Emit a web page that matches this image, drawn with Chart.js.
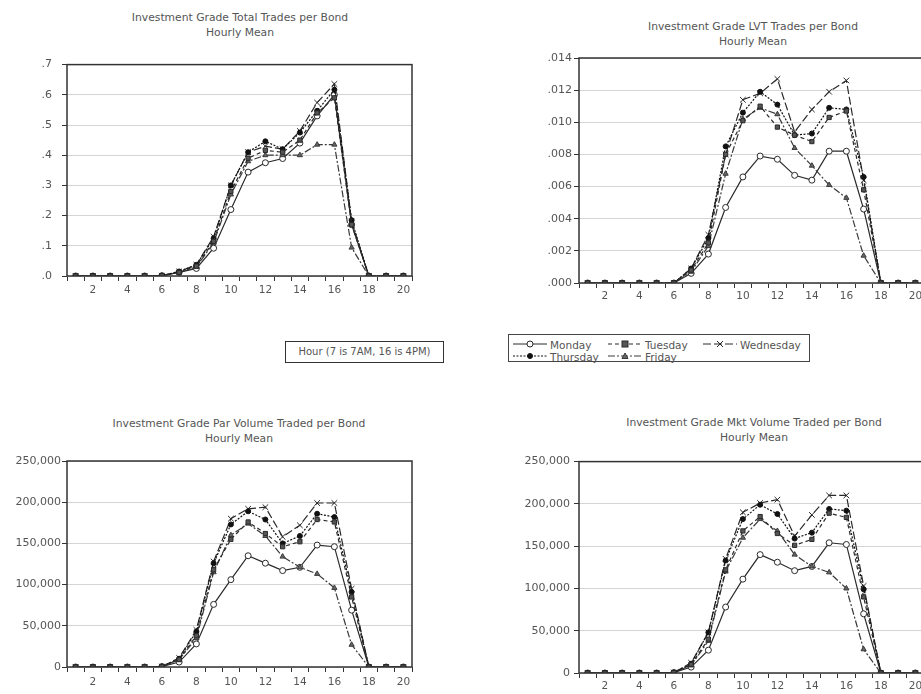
<!DOCTYPE html>
<html>
<head>
<meta charset="utf-8">
<script src="https://cdn.jsdelivr.net/npm/chart.js@4.4.1/dist/chart.umd.min.js"></script>
<style>
    html, body { margin: 0; padding: 0; width: 921px; height: 694px; overflow: hidden; background: #fff; }
    body { position: relative; font-family: "DejaVu Sans", sans-serif; color: #555; }
    canvas { position: absolute; }
    .title { position: absolute; transform: translateX(-50%); white-space: nowrap; font-size: 10.75px; line-height: 15px; text-align: center; }
    .hourbox { position: absolute; left: 285px; top: 341px; width: 159px; height: 22px; box-sizing: border-box;
               border: 1px solid #333; font-size: 10px; line-height: 20px; text-align: center; }
    .legend { position: absolute; left: 508px; top: 334px; width: 302px; height: 28px; box-sizing: border-box; border: 1px solid #444; }
    .legend .item { position: absolute; height: 12px; line-height: 12px; font-size: 10.5px; white-space: nowrap; }
    .legend svg { vertical-align: top; margin-right: 3px; }
</style>
</head>
<body>
<div class="title" style="left:240px; top:10px;">Investment Grade Total Trades per Bond<br>Hourly Mean</div>
<div class="title" style="left:753px; top:19px;">Investment Grade LVT Trades per Bond<br>Hourly Mean</div>
<div class="title" style="left:239px; top:416px;">Investment Grade Par Volume Traded per Bond<br>Hourly Mean</div>
<div class="title" style="left:754px; top:415px;">Investment Grade Mkt Volume Traded per Bond<br>Hourly Mean</div>

<canvas id="totalChart" width="430" height="262" style="left:0px; top:48px;"></canvas>
<canvas id="lvtChart" width="440" height="262" style="left:500px; top:48px;"></canvas>
<canvas id="parChart" width="430" height="243" style="left:0px; top:451px;"></canvas>
<canvas id="mktChart" width="440" height="243" style="left:500px; top:451px;"></canvas>

<div class="hourbox">Hour (7 is 7AM, 16 is 4PM)</div>
<div class="legend" id="legend"></div>

<script>
// Hours on the x axis
const hours = [1, 2, 3, 4, 5, 6, 7, 8, 9, 10, 11, 12, 13, 14, 15, 16, 17, 18, 19, 20];
const dayNames = ['Monday', 'Tuesday', 'Wednesday', 'Thursday', 'Friday'];

// Total trades per bond
const totalMon = [0, 0, 0, 0, 0, 0.001, 0.012, 0.025, 0.092, 0.22, 0.344, 0.375, 0.389, 0.44, 0.53, 0.60, 0.17, 0, 0, 0];
const totalTue = [0, 0, 0, 0, 0, 0.001, 0.012, 0.033, 0.115, 0.28, 0.39, 0.416, 0.41, 0.45, 0.54, 0.59, 0.17, 0, 0, 0];
const totalWed = [0, 0, 0, 0, 0, 0.001, 0.015, 0.037, 0.13, 0.30, 0.41, 0.43, 0.42, 0.48, 0.574, 0.636, 0.18, 0, 0, 0];
const totalThu = [0, 0, 0, 0, 0, 0.001, 0.015, 0.037, 0.125, 0.30, 0.41, 0.446, 0.42, 0.475, 0.547, 0.617, 0.185, 0, 0, 0];
const totalFri = [0, 0, 0, 0, 0, 0.001, 0.012, 0.03, 0.11, 0.27, 0.38, 0.40, 0.40, 0.40, 0.435, 0.435, 0.094, 0, 0, 0];

// LVT trades per bond
const lvtMon = [0, 0, 0, 0, 0, 0, 0.0006, 0.0018, 0.0047, 0.0066, 0.0079, 0.0077, 0.0067, 0.0064, 0.0082, 0.0082, 0.0046, 0, 0, 0];
const lvtTue = [0, 0, 0, 0, 0, 0, 0.0008, 0.0025, 0.0080, 0.0101, 0.0110, 0.0097, 0.0092, 0.0088, 0.0103, 0.0107, 0.0058, 0, 0, 0];
const lvtWed = [0, 0, 0, 0, 0, 0, 0.0009, 0.0030, 0.0080, 0.0114, 0.0118, 0.0127, 0.0094, 0.0108, 0.0119, 0.0126, 0.0064, 0, 0, 0];
const lvtThu = [0, 0, 0, 0, 0, 0, 0.0009, 0.0028, 0.0085, 0.0106, 0.0119, 0.0111, 0.0092, 0.0093, 0.0109, 0.0108, 0.0066, 0, 0, 0];
const lvtFri = [0, 0, 0, 0, 0, 0, 0.0007, 0.0023, 0.0068, 0.0102, 0.0109, 0.0105, 0.0084, 0.0073, 0.0061, 0.0053, 0.0017, 0, 0, 0];

// Par volume traded per bond
const parMon = [0, 0, 0, 0, 0, 500, 6000, 28000, 76000, 106000, 135000, 126000, 117000, 121000, 148000, 146000, 69000, 0, 0, 0];
const parTue = [0, 0, 0, 0, 0, 500, 9000, 38000, 118000, 155000, 176000, 162000, 146000, 152000, 179000, 176000, 85000, 0, 0, 0];
const parWed = [0, 0, 0, 0, 0, 500, 11000, 45000, 128000, 180000, 192000, 194000, 158000, 172000, 199000, 199000, 95000, 0, 0, 0];
const parThu = [0, 0, 0, 0, 0, 500, 10000, 43000, 126000, 173000, 189000, 179000, 150000, 159000, 186000, 182000, 91000, 0, 0, 0];
const parFri = [0, 0, 0, 0, 0, 500, 9000, 35000, 115000, 160000, 174000, 159000, 134000, 121000, 113000, 96000, 27000, 0, 0, 0];

// Market volume traded per bond
const mktMon = [0, 0, 0, 0, 0, 500, 7000, 27000, 78000, 111000, 140000, 131000, 121000, 126000, 154000, 152000, 70000, 0, 0, 0];
const mktTue = [0, 0, 0, 0, 0, 500, 10000, 40000, 122000, 168000, 185000, 165000, 151000, 158000, 189000, 184000, 90000, 0, 0, 0];
const mktWed = [0, 0, 0, 0, 0, 500, 12000, 48000, 135000, 190000, 201000, 205000, 162000, 187000, 210000, 210000, 103000, 0, 0, 0];
const mktThu = [0, 0, 0, 0, 0, 500, 11000, 48000, 133000, 182000, 199000, 188000, 159000, 166000, 194000, 192000, 99000, 0, 0, 0];
const mktFri = [0, 0, 0, 0, 0, 500, 9000, 38000, 120000, 160000, 182000, 168000, 140000, 126000, 119000, 100000, 28000, 0, 0, 0];

// Line / marker look for each day (order: lower is drawn on top)
const dayStyles = [
    { dash: [], point: 'circle', fill: '#fff', line: '#2a2a2a', radius: 3, order: 4 },
    { dash: [4, 3], point: 'rect', fill: '#555', line: '#2a2a2a', radius: 3, order: 0 },
    { dash: [8, 3], point: 'crossRot', fill: '#2a2a2a', line: '#2a2a2a', radius: 4, order: 2 },
    { dash: [2, 1.5], point: 'circle', fill: '#111', line: '#111', radius: 2.5, order: 1 },
    { dash: [7, 2, 2, 2], point: 'triangle', fill: '#666', line: '#3a3a3a', radius: 3, order: 3 }
];

const xFont = { family: 'DejaVu Sans', size: 10.5 };
const yFont = { family: 'DejaVu Sans', size: 11 };

// box round the plot area
const frame = {
    id: 'frame',
    afterDraw(chart) {
        const a = chart.chartArea;
        const ctx = chart.ctx;
        ctx.save();
        ctx.strokeStyle = '#333';
        ctx.lineWidth = 1.5;
        ctx.strokeRect(a.left, a.top, a.right - a.left, a.bottom - a.top);
        ctx.restore();
    }
};

function drawPanel(id, series, yMax, yStep, fmt, yWidth, yPad, xHeight, xPad, padRight) {
    new Chart(document.getElementById(id), {
        type: 'line',
        data: {
            labels: hours,
            datasets: series.map((values, i) => ({
                label: dayNames[i],
                data: values,
                order: dayStyles[i].order,
                borderColor: dayStyles[i].line,
                borderWidth: 1.2,
                borderDash: dayStyles[i].dash,
                tension: 0,
                pointStyle: dayStyles[i].point,
                pointRadius: dayStyles[i].radius,
                pointBackgroundColor: dayStyles[i].fill,
                pointBorderColor: dayStyles[i].line,
                pointBorderWidth: 1
            }))
        },
        options: {
            responsive: false,
            animation: false,
            devicePixelRatio: 1,
            layout: { padding: { top: 10, right: padRight, left: 0, bottom: 0 } },
            plugins: {
                legend: { display: false },
                title: { display: false },
                tooltip: { enabled: false }
            },
            scales: {
                x: {
                    offset: true,
                    grid: { offset: true, drawOnChartArea: false, tickLength: 5, tickColor: '#333' },
                    border: { display: false },
                    ticks: {
                        autoSkip: false,
                        maxRotation: 0,
                        padding: xPad,
                        color: '#555',
                        font: xFont,
                        callback: (val, idx) => hours[idx] % 2 === 0 ? String(hours[idx]) : ''
                    },
                    afterFit: scale => { scale.height = xHeight; }
                },
                y: {
                    min: 0,
                    max: yMax,
                    grid: { color: '#d4d4d4', lineWidth: 1, tickLength: 5, tickColor: '#333' },
                    border: { display: false },
                    ticks: {
                        stepSize: yStep,
                        padding: yPad,
                        color: '#555',
                        font: yFont,
                        callback: fmt
                    },
                    afterFit: scale => { scale.width = yWidth; }
                }
            }
        },
        plugins: [frame]
    });
}

const fmtOne = v => v.toFixed(1).replace(/^0/, '');
const fmtThree = v => v.toFixed(3).replace(/^0/, '');
const fmtComma = v => Math.round(v).toLocaleString('en-US');

drawPanel('totalChart', [totalMon, totalTue, totalWed, totalThu, totalFri], 0.7, 0.1, fmtOne, 67, 10, 34, 3, 18);
drawPanel('lvtChart', [lvtMon, lvtTue, lvtWed, lvtThu, lvtFri], 0.014, 0.002, fmtThree, 79, 2, 27, 2, 16);
drawPanel('parChart', [parMon, parTue, parWed, parThu, parFri], 250000, 50000, fmtComma, 67, 1, 27, 4, 18);
drawPanel('mktChart', [mktMon, mktTue, mktWed, mktThu, mktFri], 250000, 50000, fmtComma, 79, 4, 21, 2, 16);

// Legend built from the same day styles
function markerSvg(s) {
    const c = 17, y = 5;
    let m = '';
    if (s.point === 'circle') m = `<circle cx="${c}" cy="${y}" r="${s.radius}" fill="${s.fill}" stroke="${s.line}" stroke-width="1"/>`;
    if (s.point === 'rect') m = `<rect x="${c - 3}" y="${y - 3}" width="6" height="6" fill="${s.fill}" stroke="${s.line}" stroke-width="1"/>`;
    if (s.point === 'crossRot') m = `<path d="M${c - 3} ${y - 3} L${c + 3} ${y + 3} M${c - 3} ${y + 3} L${c + 3} ${y - 3}" stroke="${s.line}" stroke-width="1"/>`;
    if (s.point === 'triangle') m = `<path d="M${c} ${y - 3} L${c + 3} ${y + 2.5} L${c - 3} ${y + 2.5} Z" fill="${s.fill}" stroke="${s.line}" stroke-width="1"/>`;
    return `<svg width="34" height="10"><line x1="0" y1="${y}" x2="34" y2="${y}" stroke="${s.line}" stroke-width="1" stroke-dasharray="${s.dash.join(',')}"/>${m}</svg>`;
}

const legendSpots = [[4, 4], [99, 4], [194, 4], [4, 16], [99, 16]];
const legend = document.getElementById('legend');
dayNames.forEach((name, i) => {
    const item = document.createElement('div');
    item.className = 'item';
    item.style.left = legendSpots[i][0] + 'px';
    item.style.top = legendSpots[i][1] + 'px';
    item.innerHTML = markerSvg(dayStyles[i]) + name;
    legend.appendChild(item);
});
</script>
</body>
</html>
